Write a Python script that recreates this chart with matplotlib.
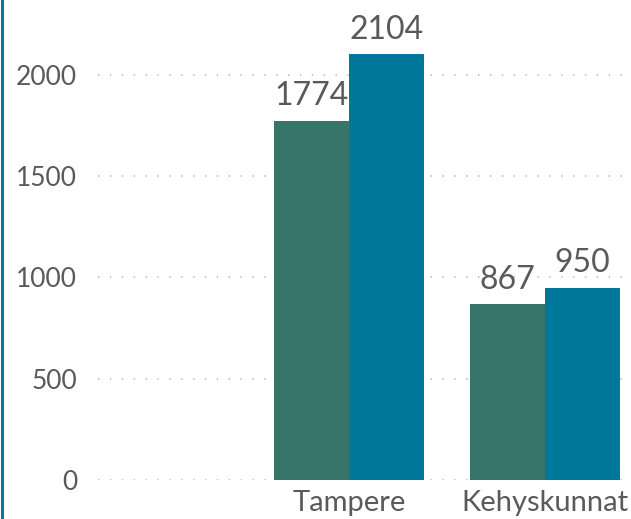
import matplotlib
matplotlib.use("Agg")
import matplotlib.pyplot as plt
import numpy as np
from matplotlib.lines import Line2D

categories = ["Tampere", "Kehyskunnat"]
series_a = [1774, 867]
series_b = [2104, 950]
yticks = [0, 500, 1000, 1500, 2000]

green = "#37756a"
blue = "#007899"
text_color = "#5a5a5a"

plt.rcParams['font.family'] = ['Lato', 'DejaVu Sans']

fig = plt.figure(figsize=(6.31, 5.19), dpi=100)
ax = fig.add_axes([98/631, 39/519, 1 - 98/631, 480/519])

x = np.arange(len(categories)) + 1
w = 0.383
b1 = ax.bar(x - w/2, series_a, width=w, color=green, zorder=2)
b2 = ax.bar(x + w/2, series_b, width=w, color=blue, zorder=2)

for bars, vals in ((b1, series_a), (b2, series_b)):
    for r, v in zip(bars, vals):
        ax.annotate(str(v), (r.get_x() + r.get_width()/2, v), xytext=(0, 11),
                    textcoords="offset points", ha="center", va="baseline",
                    fontsize=23, color=text_color)

ax.set_xlim(-0.2806, 2.4388)
ax.set_ylim(0, 2370)
ax.set_yticks(yticks)
ax.set_yticklabels([str(t) for t in yticks])
ax.set_xticks(x)
ax.set_xticklabels(categories)
ax.tick_params(axis='y', length=0, pad=15, labelsize=19, labelcolor=text_color)
ax.tick_params(axis='x', length=0, pad=7, labelsize=21, labelcolor=text_color)
for s in ax.spines.values():
    s.set_visible(False)
ax.yaxis.grid(True, color="#c8c8c8", linestyle=(0, (0.7, 5)), linewidth=1.5)
ax.set_axisbelow(True)

fig.add_artist(Line2D([1.5/631, 1.5/631], [0, 1], transform=fig.transFigure,
                      color="#0a7a9c", linewidth=2.2))

fig.savefig("out.png", dpi=100)
